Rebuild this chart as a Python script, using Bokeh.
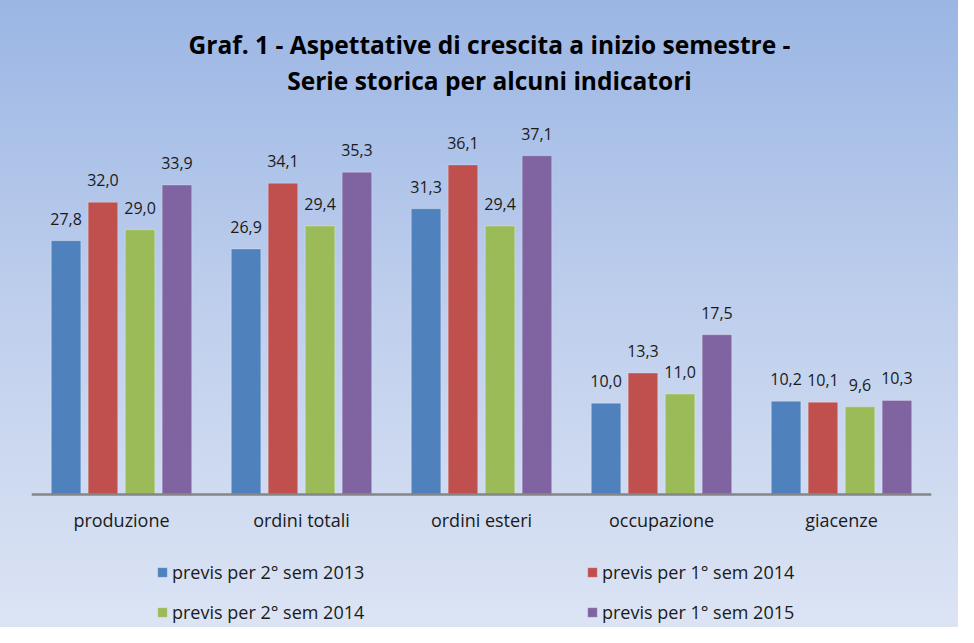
from bokeh.plotting import figure
from bokeh.models import ColumnDataSource, FactorRange, Range1d, Legend, LegendItem, Label
from bokeh.transform import dodge
from bokeh.core.properties import value
from bokeh.embed import file_html
from bokeh.resources import INLINE

categories = ["produzione", "ordini totali", "ordini esteri", "occupazione", "giacenze"]
series_names = ["previs per 2° sem 2013", "previs per 1° sem 2014",
                "previs per 2° sem 2014", "previs per 1° sem 2015"]
s2013_2 = [27.8, 26.9, 31.3, 10.0, 10.2]
s2014_1 = [32.0, 34.1, 36.1, 13.3, 10.1]
s2014_2 = [29.0, 29.4, 29.4, 11.0, 9.6]
s2015_1 = [33.9, 35.3, 37.1, 17.5, 10.3]
series_values = [s2013_2, s2014_1, s2014_2, s2015_1]
title_lines = ["Graf. 1 - Aspettative di crescita a inizio semestre -",
               "Serie storica per alcuni indicatori"]
colors = ["#4F81BD", "#C0504D", "#9BBB59", "#8064A2"]
offsets = [-0.308, -0.103, 0.103, 0.308]
FONT = "Open Sans"

# frame spans full height; value axis scale 9.13 px per unit, zero line 133 px above bottom
PX = 9.13
FRAME_H = 627
ZERO_FROM_BOTTOM = 133
p = figure(x_range=FactorRange(*categories, range_padding=0),
           y_range=Range1d(-ZERO_FROM_BOTTOM / PX, (FRAME_H - ZERO_FROM_BOTTOM) / PX),
           frame_width=900, frame_height=FRAME_H, output_backend="svg", toolbar_location=None,
           min_border_left=31, min_border_right=27, min_border_top=0, min_border_bottom=0,
           border_fill_color=None, background_fill_color=None, outline_line_color=None,
           styles={"background": "linear-gradient(to bottom, #9BB6E4 0%, #BCCDEC 45%, #DCE4F4 100%)"})
p.title.visible = False

for txt, sy in zip(title_lines, [583, 547]):
    p.add_layout(Label(x=458, y=sy, x_units="screen", y_units="screen", text=txt,
                       text_align="center", text_baseline="middle",
                       text_font=FONT, text_font_size="24.5px", text_font_style="bold",
                       text_color="#000000"))

items = []
for name, vals, col, off in zip(series_names, series_values, colors, offsets):
    src = ColumnDataSource(dict(cat=categories, val=vals,
                                lab=[f"{v:.1f}".replace(".", ",") for v in vals]))
    r = p.vbar(x=dodge("cat", off, range=p.x_range), top="val", width=0.164, source=src,
               fill_color=col, line_color="#FFFFFF", line_alpha=0.25, line_width=1)
    p.text(x=dodge("cat", off, range=p.x_range), y="val", text="lab", source=src,
           text_align="center", text_baseline="middle", y_offset=-22,
           text_font=value(FONT), text_font_size="16px", text_color="#1a1a1a")
    items.append((name, r))

p.yaxis.visible = False
p.xgrid.grid_line_color = None
p.ygrid.grid_line_color = None
xa = p.xaxis[0]
xa.fixed_location = 0
xa.axis_line_color = "#868686"
xa.axis_line_width = 2.5
xa.major_tick_line_color = None
xa.minor_tick_line_color = None
xa.major_label_standoff = 7
xa.major_label_text_font = FONT
xa.major_label_text_font_size = "18px"
xa.major_label_text_color = "#1a1a1a"

legend = Legend(items=[LegendItem(label=n, renderers=[r]) for n, r in items],
                ncols=2, location=(125, 3), orientation="horizontal",
                label_text_font=FONT, label_text_font_size="18px", label_text_color="#1a1a1a",
                glyph_width=12, glyph_height=12, label_standoff=4, label_width=398,
                label_height=20, spacing=16, padding=0, margin=0,
                background_fill_alpha=0, border_line_color=None)
p.add_layout(legend, "center")

open("out.html", "w").write(file_html(p, INLINE))
